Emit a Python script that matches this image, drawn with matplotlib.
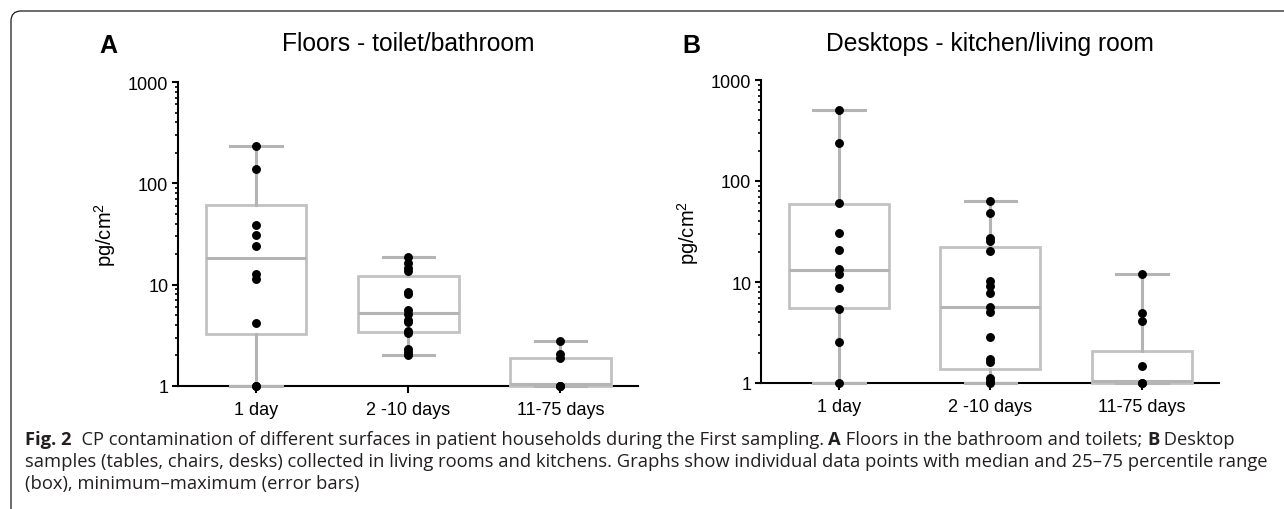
import matplotlib
matplotlib.use("Agg")
import matplotlib.pyplot as plt
from matplotlib.patches import FancyBboxPatch
from matplotlib.transforms import IdentityTransform

plt.rcParams['font.family'] = ['Liberation Sans', 'DejaVu Sans']
plt.rcParams['mathtext.fontset'] = 'custom'
plt.rcParams['mathtext.rm'] = 'Liberation Sans'
plt.rcParams['mathtext.it'] = 'Liberation Sans:italic'

categories = ["1 day", "2 -10 days", "11-75 days"]

# panel A - floors toilet/bathroom (pg/cm2)
a_points = [
    [232, 137, 38.5, 31, 24, 12.6, 11.3, 4.15, 1.0, 1.0],
    [18.9, 16.5, 14.7, 13.6, 8.5, 8.0, 5.6, 5.1, 4.5, 4.3, 3.5, 3.3, 2.3, 2.15, 2.0],
    [2.78, 2.05, 1.9, 1.0, 1.0, 1.0],
]
a_q1 = [3.24, 3.41, 1.0]
a_med = [18.5, 5.2, 1.04]
a_q3 = [61, 12.2, 1.9]
a_min = [1.0, 2.0, 1.0]
a_max = [232, 18.9, 2.78]

# panel B - desktops kitchen/living room
b_points = [
    [505, 238, 60.6, 30.6, 20.7, 13.3, 12.0, 8.7, 5.4, 2.55, 1.0],
    [64, 47.9, 27, 25.5, 20.1, 10.3, 9.06, 7.7, 5.6, 5.1, 2.87, 1.73, 1.6, 1.12, 1.05, 1.0],
    [11.9, 4.9, 4.08, 1.49, 1.0, 1.0],
]
b_q1 = [5.5, 1.38, 1.0]
b_med = [13.1, 5.6, 1.04]
b_q3 = [59, 22.4, 2.09]
b_min = [1.0, 1.0, 1.0]
b_max = [505, 64, 11.9]

W, H = 1284, 510
fig = plt.figure(figsize=(W / 100, H / 100), dpi=100)

box_col = '#c2c2c2'
line_col = '#b4b4b4'


def panel(rect, letter, title, pts, q1, med, q3, lo, hi, letter_x, title_pad):
    ax = fig.add_axes(rect)
    stats = []
    for i in range(3):
        stats.append(dict(med=med[i], q1=q1[i], q3=q3[i], whislo=lo[i], whishi=hi[i], fliers=[]))
    ax.bxp(stats, positions=range(3), widths=0.66, capwidths=0.34, showfliers=False,
           patch_artist=True,
           boxprops=dict(facecolor='white', edgecolor=box_col, linewidth=2.0, zorder=3),
           medianprops=dict(color=line_col, linewidth=2.2, zorder=3.1),
           whiskerprops=dict(color=line_col, linewidth=2.2, zorder=3),
           capprops=dict(color=line_col, linewidth=2.2, zorder=3.1))
    for ln in ax.lines:
        ln.set_clip_on(False)
    for p in ax.patches:
        p.set_clip_on(False)
    for i, vals in enumerate(pts):
        ax.plot([i] * len(vals), vals, 'o', color='black', markersize=5.4, zorder=4, clip_on=False)
    ax.set_yscale('log')
    ax.set_ylim(1, 1000)
    ax.set_xlim(-0.515, 2.51)
    ax.set_yticks([1, 10, 100, 1000])
    ax.set_yticklabels(['1', '10', '100', '1000'])
    ax.set_xticks(range(3))
    ax.set_xticklabels(categories)
    ax.spines['top'].set_visible(False)
    ax.spines['right'].set_visible(False)
    ax.spines['left'].set_linewidth(1.5)
    ax.spines['bottom'].set_linewidth(1.5)
    ax.tick_params(axis='y', which='major', length=4, width=1.5, labelsize=13, pad=3)
    ax.tick_params(axis='y', which='minor', length=2.5, width=1.2)
    ax.tick_params(axis='x', length=5, width=1.5, labelsize=13, pad=6)
    ax.set_ylabel('pg/cm$^2$', fontsize=14.5, labelpad=7)
    ax.set_title(title, fontsize=17.7, pad=title_pad)
    fig.text(letter_x / W, 1 - 46 / H, letter, fontsize=18, fontweight='bold',
             ha='left', va='center')
    return ax


panel([178 / W, 1 - 387 / H, 460 / W, 304 / H], 'A', 'Floors - toilet/bathroom',
      a_points, a_q1, a_med, a_q3, a_min, a_max, 99, 23)
panel([761 / W, 1 - 384 / H, 458 / W, 303 / H], 'B', 'Desktops - kitchen/living room',
      b_points, b_q1, b_med, b_q3, b_min, b_max, 682, 21.5)

# rounded frame of the figure page
frame = FancyBboxPatch((11, -40), W + 100, H - 12 + 40,
                       boxstyle='round,pad=0,rounding_size=10',
                       transform=IdentityTransform(), facecolor='none',
                       edgecolor='#1a1a1a', linewidth=0.9)
fig.patches.append(frame)

# caption, written piece by piece to mix bold and regular
cap_font = ['Open Sans', 'DejaVu Sans']
cap_col = '#231f20'
lines = [
    [("Fig. 2", True), ("  CP contamination of different surfaces in patient households during the First sampling. ", False),
     ("A", True), (" Floors in the bathroom and toilets; ", False), ("B", True), (" Desktop", False)],
    [("samples (tables, chairs, desks) collected in living rooms and kitchens. Graphs show individual data points with median and 25\u201375 percentile range", False)],
    [("(box), minimum\u2013maximum (error bars)", False)],
]
baselines = [445, 467, 489]
renderer = fig.canvas.get_renderer()

# size the caption so that the full second line spans the page width
probe = fig.text(0, 0, lines[1][0][0], family=cap_font, fontsize=10)
cap_size = 10 * 1243 / probe.get_window_extent(renderer).width
probe.remove()

for parts, yb in zip(lines, baselines):
    x = 25
    for txt, bold in parts:
        t = fig.text(x / W, 1 - yb / H, txt, family=cap_font, fontsize=cap_size,
                     fontweight='bold' if bold else 'normal', color=cap_col,
                     ha='left', va='baseline')
        x += t.get_window_extent(renderer).width

fig.savefig('out.png', dpi=100)
